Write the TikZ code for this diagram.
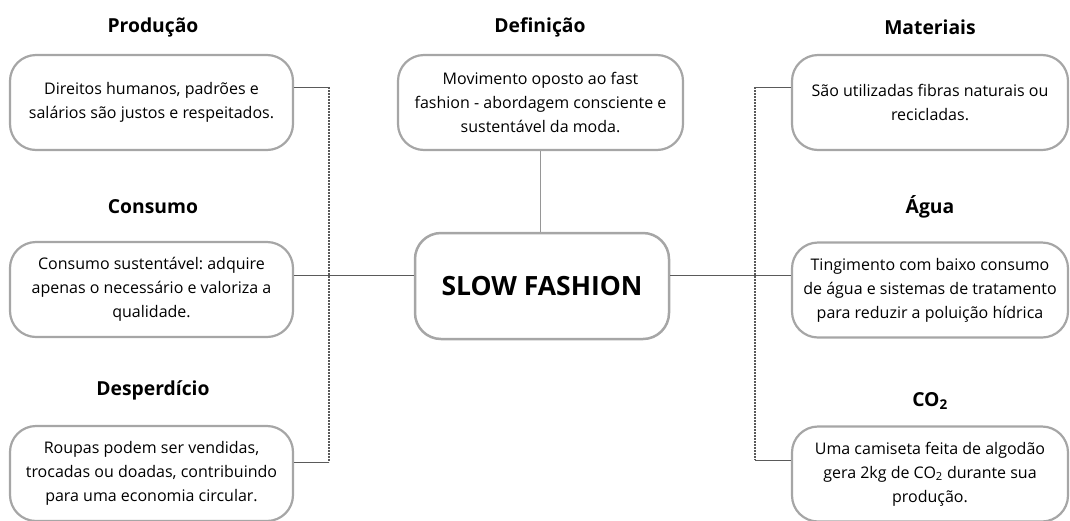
\documentclass[tikz,border=0pt]{standalone}
\usepackage{fontspec}
\setmainfont{Open Sans}
\usetikzlibrary{positioning}
\frenchspacing
\definecolor{boxgray}{RGB}{166,166,166}
\definecolor{linegray}{RGB}{90,90,90}
\definecolor{stemgray}{RGB}{150,150,150}
\tikzset{
  caixa/.style={draw=boxgray, line width=2.2pt, rounded corners=26pt, fill=white,
    align=center, minimum height=95pt, inner sep=0pt,
    font=\fontsize{16}{24}\selectfont},
  titulo/.style={font=\fontsize{19.3}{23}\selectfont\bfseries},
  liga/.style={draw=linegray, line width=0.9pt},
  pontos/.style={draw=linegray, line width=1.6pt, dash pattern=on 1.6pt off 1.4pt}
}

\begin{document}
\begin{tikzpicture}[x=1pt,y=-1pt]
    \useasboundingbox (0,0) rectangle (1070,520);

    % titulos
    \node[titulo] (tprod) at (153,27) {Produção};
    \node[titulo] (tcons) at (153,207) {Consumo};
    \node[titulo] (tdesp) at (153,390) {Desperdício};
    \node[titulo] (tdef) at (540,27) {Definição};
    \node[titulo] (tmat) at (930,27) {Materiais};
    \node[titulo] (tagua) at (930,207) {Água};
    \node[titulo] (tco) at (930,401) {CO\textsubscript{2}};

    % caixas da esquerda
    \node[caixa, minimum width=283pt] (prod) at (151.5,102.5)
      {Direitos humanos, padrões e\\salários são justos e respeitados.};
    \node[caixa, minimum width=283pt] (cons) at (151.5,289.5)
      {Consumo sustentável: adquire\\apenas o necessário e valoriza a\\qualidade.};
    \node[caixa, minimum width=283pt] (desp) at (151.5,473.5)
      {Roupas podem ser vendidas,\\trocadas ou doadas, contribuindo\\para uma economia circular.};

    % centro
    \node[caixa, minimum width=285pt] (def) at (540.5,102.5)
      {Movimento oposto ao fast\\fashion - abordagem consciente e\\sustentável da moda.};
    \node[caixa, minimum width=254pt, minimum height=106pt, line width=2.5pt,
      font=\fontsize{26.5}{30}\selectfont\bfseries] (slow) at (542,286) {SLOW FASHION};

    % caixas da direita
    \node[caixa, minimum width=276pt] (mat) at (930,102.5)
      {São utilizadas fibras naturais ou\\recicladas.};
    \node[caixa, minimum width=276pt] (agua) at (930,290)
      {Tingimento com baixo consumo\\de água e sistemas de tratamento\\para reduzir a poluição hídrica};
    \node[caixa, minimum width=276pt] (co) at (930,474)
      {Uma camiseta feita de algodão\\gera 2kg de CO\textsubscript{2} durante sua\\produção.};

    % ligacoes
    \coordinate (pe1) at (329,87);
    \coordinate (pe3) at (329,462);
    \coordinate (pd1) at (755,87);
    \coordinate (pd3) at (755,460);

    \draw[stemgray, line width=1.3pt] (def.south) -- (def.south |- slow.north);

    \draw[liga] ([yshift=15.5pt]prod.east) -- (pe1);
    \draw[liga] ([yshift=11.5pt]desp.east) -- (pe3);
    \draw[pontos] (pe1) -- (pe3);
    \draw[liga] ([yshift=14.5pt]cons.east) -- ([yshift=14.5pt]cons.east -| slow.west);

    \draw[liga] ([yshift=15.5pt]mat.west) -- (pd1);
    \draw[liga] ([yshift=14pt]co.west) -- (pd3);
    \draw[pontos] (pd1) -- (pd3);
    \draw[liga] ([yshift=15pt]agua.west) -- ([yshift=15pt]agua.west -| slow.east);
\end{tikzpicture}
\end{document}
